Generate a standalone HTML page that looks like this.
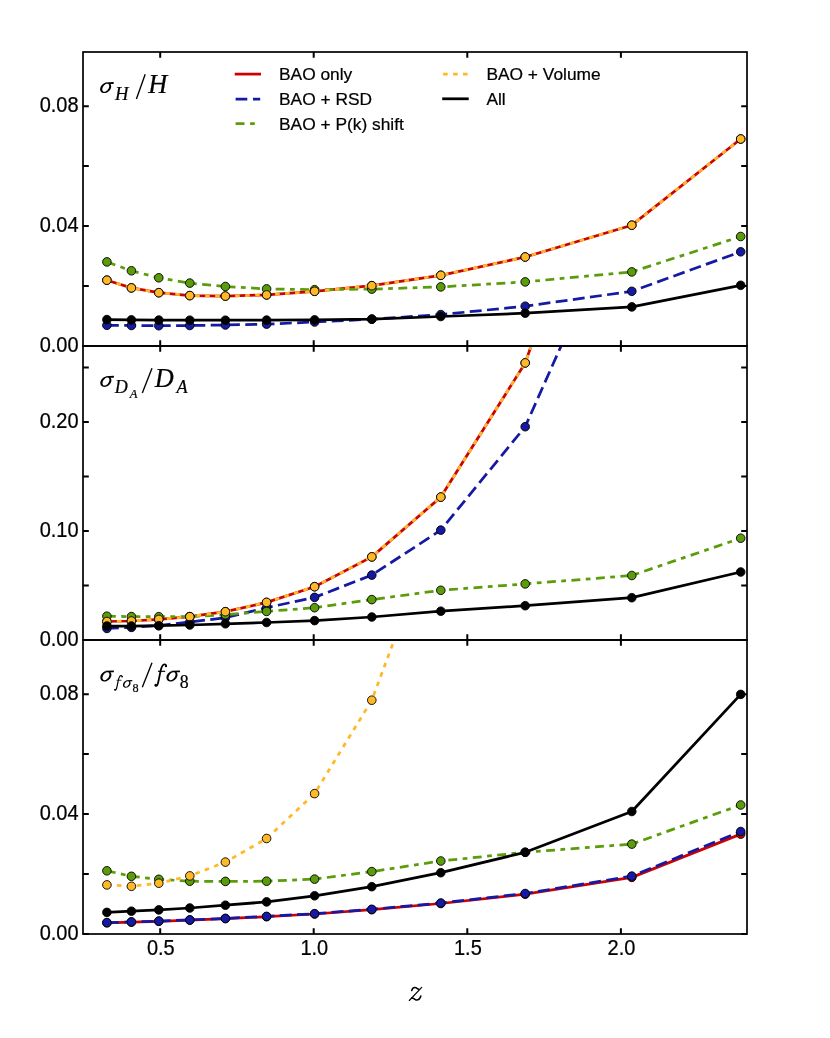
<!DOCTYPE html>
<html><head><meta charset="utf-8"><title>chart</title>
<style>html,body{margin:0;padding:0;background:#fff}svg{display:block;will-change:transform;opacity:0.999}text{font-family:"Liberation Sans",sans-serif;fill:#000;stroke:#000;stroke-width:0.22px}.m{font-family:"Liberation Serif",serif;font-style:italic}.r{font-family:"Liberation Serif",serif;font-style:normal}</style></head><body>
<svg width="830" height="1038" viewBox="0 0 830 1038">
<rect x="0" y="0" width="830" height="1038" fill="#ffffff"/>
<defs>
<clipPath id="c0"><rect x="83.0" y="52.0" width="664.0" height="294.0"/></clipPath>
<clipPath id="c1"><rect x="83.0" y="346.0" width="664.0" height="294.0"/></clipPath>
<clipPath id="c2"><rect x="83.0" y="640.0" width="664.0" height="294.0"/></clipPath>
</defs>
<g clip-path="url(#c0)">
<polyline points="106.9,280.2 131.4,287.9 158.8,292.7 189.8,295.6 225.4,296.1 266.6,294.9 314.6,291.3 371.8,285.7 440.8,275.3 525.2,257.0 631.8,225.2 740.7,139.0" fill="none" stroke="#CC0000" stroke-width="2.75" stroke-linejoin="round"/>
<circle cx="106.9" cy="280.2" r="4.3" fill="#CC0000" stroke="#000" stroke-width="0.9"/>
<circle cx="131.4" cy="287.9" r="4.3" fill="#CC0000" stroke="#000" stroke-width="0.9"/>
<circle cx="158.8" cy="292.7" r="4.3" fill="#CC0000" stroke="#000" stroke-width="0.9"/>
<circle cx="189.8" cy="295.6" r="4.3" fill="#CC0000" stroke="#000" stroke-width="0.9"/>
<circle cx="225.4" cy="296.1" r="4.3" fill="#CC0000" stroke="#000" stroke-width="0.9"/>
<circle cx="266.6" cy="294.9" r="4.3" fill="#CC0000" stroke="#000" stroke-width="0.9"/>
<circle cx="314.6" cy="291.3" r="4.3" fill="#CC0000" stroke="#000" stroke-width="0.9"/>
<circle cx="371.8" cy="285.7" r="4.3" fill="#CC0000" stroke="#000" stroke-width="0.9"/>
<circle cx="440.8" cy="275.3" r="4.3" fill="#CC0000" stroke="#000" stroke-width="0.9"/>
<circle cx="525.2" cy="257.0" r="4.3" fill="#CC0000" stroke="#000" stroke-width="0.9"/>
<circle cx="631.8" cy="225.2" r="4.3" fill="#CC0000" stroke="#000" stroke-width="0.9"/>
<circle cx="740.7" cy="139.0" r="4.3" fill="#CC0000" stroke="#000" stroke-width="0.9"/>
<polyline points="106.9,325.3 131.4,325.5 158.8,325.7 189.8,325.5 225.4,325.0 266.6,324.1 314.6,322.0 371.8,319.2 440.8,314.6 525.2,306.2 631.8,291.3 740.7,251.8" fill="none" stroke="#1619A1" stroke-width="2.75" stroke-linejoin="round" stroke-dasharray="11.9 5.4"/>
<circle cx="106.9" cy="325.3" r="4.3" fill="#1619A1" stroke="#000" stroke-width="0.9"/>
<circle cx="131.4" cy="325.5" r="4.3" fill="#1619A1" stroke="#000" stroke-width="0.9"/>
<circle cx="158.8" cy="325.7" r="4.3" fill="#1619A1" stroke="#000" stroke-width="0.9"/>
<circle cx="189.8" cy="325.5" r="4.3" fill="#1619A1" stroke="#000" stroke-width="0.9"/>
<circle cx="225.4" cy="325.0" r="4.3" fill="#1619A1" stroke="#000" stroke-width="0.9"/>
<circle cx="266.6" cy="324.1" r="4.3" fill="#1619A1" stroke="#000" stroke-width="0.9"/>
<circle cx="314.6" cy="322.0" r="4.3" fill="#1619A1" stroke="#000" stroke-width="0.9"/>
<circle cx="371.8" cy="319.2" r="4.3" fill="#1619A1" stroke="#000" stroke-width="0.9"/>
<circle cx="440.8" cy="314.6" r="4.3" fill="#1619A1" stroke="#000" stroke-width="0.9"/>
<circle cx="525.2" cy="306.2" r="4.3" fill="#1619A1" stroke="#000" stroke-width="0.9"/>
<circle cx="631.8" cy="291.3" r="4.3" fill="#1619A1" stroke="#000" stroke-width="0.9"/>
<circle cx="740.7" cy="251.8" r="4.3" fill="#1619A1" stroke="#000" stroke-width="0.9"/>
<polyline points="106.9,261.9 131.4,270.8 158.8,277.8 189.8,283.1 225.4,286.5 266.6,288.9 314.6,289.7 371.8,289.1 440.8,286.9 525.2,281.9 631.8,271.9 740.7,236.5" fill="none" stroke="#5B9C0A" stroke-width="2.75" stroke-linejoin="round" stroke-dasharray="8.9 5.45 4.75 5.45"/>
<circle cx="106.9" cy="261.9" r="4.3" fill="#5B9C0A" stroke="#000" stroke-width="0.9"/>
<circle cx="131.4" cy="270.8" r="4.3" fill="#5B9C0A" stroke="#000" stroke-width="0.9"/>
<circle cx="158.8" cy="277.8" r="4.3" fill="#5B9C0A" stroke="#000" stroke-width="0.9"/>
<circle cx="189.8" cy="283.1" r="4.3" fill="#5B9C0A" stroke="#000" stroke-width="0.9"/>
<circle cx="225.4" cy="286.5" r="4.3" fill="#5B9C0A" stroke="#000" stroke-width="0.9"/>
<circle cx="266.6" cy="288.9" r="4.3" fill="#5B9C0A" stroke="#000" stroke-width="0.9"/>
<circle cx="314.6" cy="289.7" r="4.3" fill="#5B9C0A" stroke="#000" stroke-width="0.9"/>
<circle cx="371.8" cy="289.1" r="4.3" fill="#5B9C0A" stroke="#000" stroke-width="0.9"/>
<circle cx="440.8" cy="286.9" r="4.3" fill="#5B9C0A" stroke="#000" stroke-width="0.9"/>
<circle cx="525.2" cy="281.9" r="4.3" fill="#5B9C0A" stroke="#000" stroke-width="0.9"/>
<circle cx="631.8" cy="271.9" r="4.3" fill="#5B9C0A" stroke="#000" stroke-width="0.9"/>
<circle cx="740.7" cy="236.5" r="4.3" fill="#5B9C0A" stroke="#000" stroke-width="0.9"/>
<polyline points="106.9,280.2 131.4,287.9 158.8,292.7 189.8,295.6 225.4,296.1 266.6,294.9 314.6,291.3 371.8,285.7 440.8,275.3 525.2,257.0 631.8,225.2 740.7,139.0" fill="none" stroke="#FFB928" stroke-width="2.75" stroke-linejoin="round" stroke-dasharray="4.6 5.4"/>
<circle cx="106.9" cy="280.2" r="4.3" fill="#FFB928" stroke="#000" stroke-width="0.9"/>
<circle cx="131.4" cy="287.9" r="4.3" fill="#FFB928" stroke="#000" stroke-width="0.9"/>
<circle cx="158.8" cy="292.7" r="4.3" fill="#FFB928" stroke="#000" stroke-width="0.9"/>
<circle cx="189.8" cy="295.6" r="4.3" fill="#FFB928" stroke="#000" stroke-width="0.9"/>
<circle cx="225.4" cy="296.1" r="4.3" fill="#FFB928" stroke="#000" stroke-width="0.9"/>
<circle cx="266.6" cy="294.9" r="4.3" fill="#FFB928" stroke="#000" stroke-width="0.9"/>
<circle cx="314.6" cy="291.3" r="4.3" fill="#FFB928" stroke="#000" stroke-width="0.9"/>
<circle cx="371.8" cy="285.7" r="4.3" fill="#FFB928" stroke="#000" stroke-width="0.9"/>
<circle cx="440.8" cy="275.3" r="4.3" fill="#FFB928" stroke="#000" stroke-width="0.9"/>
<circle cx="525.2" cy="257.0" r="4.3" fill="#FFB928" stroke="#000" stroke-width="0.9"/>
<circle cx="631.8" cy="225.2" r="4.3" fill="#FFB928" stroke="#000" stroke-width="0.9"/>
<circle cx="740.7" cy="139.0" r="4.3" fill="#FFB928" stroke="#000" stroke-width="0.9"/>
<polyline points="106.9,319.6 131.4,319.9 158.8,320.1 189.8,320.2 225.4,320.2 266.6,320.1 314.6,319.9 371.8,319.1 440.8,316.5 525.2,313.2 631.8,306.9 740.7,285.3" fill="none" stroke="#000000" stroke-width="2.75" stroke-linejoin="round"/>
<circle cx="106.9" cy="319.6" r="4.3" fill="#000000" stroke="#000" stroke-width="0.9"/>
<circle cx="131.4" cy="319.9" r="4.3" fill="#000000" stroke="#000" stroke-width="0.9"/>
<circle cx="158.8" cy="320.1" r="4.3" fill="#000000" stroke="#000" stroke-width="0.9"/>
<circle cx="189.8" cy="320.2" r="4.3" fill="#000000" stroke="#000" stroke-width="0.9"/>
<circle cx="225.4" cy="320.2" r="4.3" fill="#000000" stroke="#000" stroke-width="0.9"/>
<circle cx="266.6" cy="320.1" r="4.3" fill="#000000" stroke="#000" stroke-width="0.9"/>
<circle cx="314.6" cy="319.9" r="4.3" fill="#000000" stroke="#000" stroke-width="0.9"/>
<circle cx="371.8" cy="319.1" r="4.3" fill="#000000" stroke="#000" stroke-width="0.9"/>
<circle cx="440.8" cy="316.5" r="4.3" fill="#000000" stroke="#000" stroke-width="0.9"/>
<circle cx="525.2" cy="313.2" r="4.3" fill="#000000" stroke="#000" stroke-width="0.9"/>
<circle cx="631.8" cy="306.9" r="4.3" fill="#000000" stroke="#000" stroke-width="0.9"/>
<circle cx="740.7" cy="285.3" r="4.3" fill="#000000" stroke="#000" stroke-width="0.9"/>
</g>
<g clip-path="url(#c1)">
<polyline points="106.9,621.5 131.4,621.0 158.8,619.4 189.8,616.7 225.4,611.7 266.6,602.4 314.6,586.7 371.8,556.9 440.8,497.1 525.2,362.9 631.8,60.2 740.7,-399.8" fill="none" stroke="#CC0000" stroke-width="2.75" stroke-linejoin="round"/>
<circle cx="106.9" cy="621.5" r="4.3" fill="#CC0000" stroke="#000" stroke-width="0.9"/>
<circle cx="131.4" cy="621.0" r="4.3" fill="#CC0000" stroke="#000" stroke-width="0.9"/>
<circle cx="158.8" cy="619.4" r="4.3" fill="#CC0000" stroke="#000" stroke-width="0.9"/>
<circle cx="189.8" cy="616.7" r="4.3" fill="#CC0000" stroke="#000" stroke-width="0.9"/>
<circle cx="225.4" cy="611.7" r="4.3" fill="#CC0000" stroke="#000" stroke-width="0.9"/>
<circle cx="266.6" cy="602.4" r="4.3" fill="#CC0000" stroke="#000" stroke-width="0.9"/>
<circle cx="314.6" cy="586.7" r="4.3" fill="#CC0000" stroke="#000" stroke-width="0.9"/>
<circle cx="371.8" cy="556.9" r="4.3" fill="#CC0000" stroke="#000" stroke-width="0.9"/>
<circle cx="440.8" cy="497.1" r="4.3" fill="#CC0000" stroke="#000" stroke-width="0.9"/>
<circle cx="525.2" cy="362.9" r="4.3" fill="#CC0000" stroke="#000" stroke-width="0.9"/>
<circle cx="631.8" cy="60.2" r="4.3" fill="#CC0000" stroke="#000" stroke-width="0.9"/>
<polyline points="106.9,628.4 131.4,627.4 158.8,625.5 189.8,622.0 225.4,617.7 266.6,607.7 314.6,597.4 371.8,575.1 440.8,530.1 525.2,426.7 631.8,187.0 740.7,-199.8" fill="none" stroke="#1619A1" stroke-width="2.75" stroke-linejoin="round" stroke-dasharray="11.9 5.4"/>
<circle cx="106.9" cy="628.4" r="4.3" fill="#1619A1" stroke="#000" stroke-width="0.9"/>
<circle cx="131.4" cy="627.4" r="4.3" fill="#1619A1" stroke="#000" stroke-width="0.9"/>
<circle cx="158.8" cy="625.5" r="4.3" fill="#1619A1" stroke="#000" stroke-width="0.9"/>
<circle cx="189.8" cy="622.0" r="4.3" fill="#1619A1" stroke="#000" stroke-width="0.9"/>
<circle cx="225.4" cy="617.7" r="4.3" fill="#1619A1" stroke="#000" stroke-width="0.9"/>
<circle cx="266.6" cy="607.7" r="4.3" fill="#1619A1" stroke="#000" stroke-width="0.9"/>
<circle cx="314.6" cy="597.4" r="4.3" fill="#1619A1" stroke="#000" stroke-width="0.9"/>
<circle cx="371.8" cy="575.1" r="4.3" fill="#1619A1" stroke="#000" stroke-width="0.9"/>
<circle cx="440.8" cy="530.1" r="4.3" fill="#1619A1" stroke="#000" stroke-width="0.9"/>
<circle cx="525.2" cy="426.7" r="4.3" fill="#1619A1" stroke="#000" stroke-width="0.9"/>
<circle cx="631.8" cy="187.0" r="4.3" fill="#1619A1" stroke="#000" stroke-width="0.9"/>
<polyline points="106.9,616.2 131.4,616.6 158.8,616.7 189.8,616.6 225.4,614.7 266.6,611.4 314.6,607.7 371.8,599.6 440.8,590.3 525.2,583.9 631.8,575.5 740.7,538.2" fill="none" stroke="#5B9C0A" stroke-width="2.75" stroke-linejoin="round" stroke-dasharray="8.9 5.45 4.75 5.45"/>
<circle cx="106.9" cy="616.2" r="4.3" fill="#5B9C0A" stroke="#000" stroke-width="0.9"/>
<circle cx="131.4" cy="616.6" r="4.3" fill="#5B9C0A" stroke="#000" stroke-width="0.9"/>
<circle cx="158.8" cy="616.7" r="4.3" fill="#5B9C0A" stroke="#000" stroke-width="0.9"/>
<circle cx="189.8" cy="616.6" r="4.3" fill="#5B9C0A" stroke="#000" stroke-width="0.9"/>
<circle cx="225.4" cy="614.7" r="4.3" fill="#5B9C0A" stroke="#000" stroke-width="0.9"/>
<circle cx="266.6" cy="611.4" r="4.3" fill="#5B9C0A" stroke="#000" stroke-width="0.9"/>
<circle cx="314.6" cy="607.7" r="4.3" fill="#5B9C0A" stroke="#000" stroke-width="0.9"/>
<circle cx="371.8" cy="599.6" r="4.3" fill="#5B9C0A" stroke="#000" stroke-width="0.9"/>
<circle cx="440.8" cy="590.3" r="4.3" fill="#5B9C0A" stroke="#000" stroke-width="0.9"/>
<circle cx="525.2" cy="583.9" r="4.3" fill="#5B9C0A" stroke="#000" stroke-width="0.9"/>
<circle cx="631.8" cy="575.5" r="4.3" fill="#5B9C0A" stroke="#000" stroke-width="0.9"/>
<circle cx="740.7" cy="538.2" r="4.3" fill="#5B9C0A" stroke="#000" stroke-width="0.9"/>
<polyline points="106.9,621.5 131.4,621.0 158.8,619.4 189.8,616.7 225.4,611.7 266.6,602.4 314.6,586.7 371.8,556.9 440.8,497.1 525.2,362.9 631.8,60.2 740.7,-399.8" fill="none" stroke="#FFB928" stroke-width="2.75" stroke-linejoin="round" stroke-dasharray="4.6 5.4"/>
<circle cx="106.9" cy="621.5" r="4.3" fill="#FFB928" stroke="#000" stroke-width="0.9"/>
<circle cx="131.4" cy="621.0" r="4.3" fill="#FFB928" stroke="#000" stroke-width="0.9"/>
<circle cx="158.8" cy="619.4" r="4.3" fill="#FFB928" stroke="#000" stroke-width="0.9"/>
<circle cx="189.8" cy="616.7" r="4.3" fill="#FFB928" stroke="#000" stroke-width="0.9"/>
<circle cx="225.4" cy="611.7" r="4.3" fill="#FFB928" stroke="#000" stroke-width="0.9"/>
<circle cx="266.6" cy="602.4" r="4.3" fill="#FFB928" stroke="#000" stroke-width="0.9"/>
<circle cx="314.6" cy="586.7" r="4.3" fill="#FFB928" stroke="#000" stroke-width="0.9"/>
<circle cx="371.8" cy="556.9" r="4.3" fill="#FFB928" stroke="#000" stroke-width="0.9"/>
<circle cx="440.8" cy="497.1" r="4.3" fill="#FFB928" stroke="#000" stroke-width="0.9"/>
<circle cx="525.2" cy="362.9" r="4.3" fill="#FFB928" stroke="#000" stroke-width="0.9"/>
<circle cx="631.8" cy="60.2" r="4.3" fill="#FFB928" stroke="#000" stroke-width="0.9"/>
<polyline points="106.9,626.0 131.4,626.0 158.8,625.7 189.8,625.0 225.4,623.8 266.6,622.5 314.6,620.6 371.8,617.0 440.8,611.2 525.2,605.7 631.8,597.7 740.7,572.0" fill="none" stroke="#000000" stroke-width="2.75" stroke-linejoin="round"/>
<circle cx="106.9" cy="626.0" r="4.3" fill="#000000" stroke="#000" stroke-width="0.9"/>
<circle cx="131.4" cy="626.0" r="4.3" fill="#000000" stroke="#000" stroke-width="0.9"/>
<circle cx="158.8" cy="625.7" r="4.3" fill="#000000" stroke="#000" stroke-width="0.9"/>
<circle cx="189.8" cy="625.0" r="4.3" fill="#000000" stroke="#000" stroke-width="0.9"/>
<circle cx="225.4" cy="623.8" r="4.3" fill="#000000" stroke="#000" stroke-width="0.9"/>
<circle cx="266.6" cy="622.5" r="4.3" fill="#000000" stroke="#000" stroke-width="0.9"/>
<circle cx="314.6" cy="620.6" r="4.3" fill="#000000" stroke="#000" stroke-width="0.9"/>
<circle cx="371.8" cy="617.0" r="4.3" fill="#000000" stroke="#000" stroke-width="0.9"/>
<circle cx="440.8" cy="611.2" r="4.3" fill="#000000" stroke="#000" stroke-width="0.9"/>
<circle cx="525.2" cy="605.7" r="4.3" fill="#000000" stroke="#000" stroke-width="0.9"/>
<circle cx="631.8" cy="597.7" r="4.3" fill="#000000" stroke="#000" stroke-width="0.9"/>
<circle cx="740.7" cy="572.0" r="4.3" fill="#000000" stroke="#000" stroke-width="0.9"/>
</g>
<g clip-path="url(#c2)">
<polyline points="106.9,922.8 131.4,922.1 158.8,921.3 189.8,920.1 225.4,918.6 266.6,916.7 314.6,914.0 371.8,909.7 440.8,903.5 525.2,894.2 631.8,877.4 740.7,834.1" fill="none" stroke="#CC0000" stroke-width="2.75" stroke-linejoin="round"/>
<circle cx="106.9" cy="922.8" r="4.3" fill="#CC0000" stroke="#000" stroke-width="0.9"/>
<circle cx="131.4" cy="922.1" r="4.3" fill="#CC0000" stroke="#000" stroke-width="0.9"/>
<circle cx="158.8" cy="921.3" r="4.3" fill="#CC0000" stroke="#000" stroke-width="0.9"/>
<circle cx="189.8" cy="920.1" r="4.3" fill="#CC0000" stroke="#000" stroke-width="0.9"/>
<circle cx="225.4" cy="918.6" r="4.3" fill="#CC0000" stroke="#000" stroke-width="0.9"/>
<circle cx="266.6" cy="916.7" r="4.3" fill="#CC0000" stroke="#000" stroke-width="0.9"/>
<circle cx="314.6" cy="914.0" r="4.3" fill="#CC0000" stroke="#000" stroke-width="0.9"/>
<circle cx="371.8" cy="909.7" r="4.3" fill="#CC0000" stroke="#000" stroke-width="0.9"/>
<circle cx="440.8" cy="903.5" r="4.3" fill="#CC0000" stroke="#000" stroke-width="0.9"/>
<circle cx="525.2" cy="894.2" r="4.3" fill="#CC0000" stroke="#000" stroke-width="0.9"/>
<circle cx="631.8" cy="877.4" r="4.3" fill="#CC0000" stroke="#000" stroke-width="0.9"/>
<circle cx="740.7" cy="834.1" r="4.3" fill="#CC0000" stroke="#000" stroke-width="0.9"/>
<polyline points="106.9,922.6 131.4,921.9 158.8,921.1 189.8,919.9 225.4,918.4 266.6,916.4 314.6,913.7 371.8,909.3 440.8,903.0 525.2,893.5 631.8,876.1 740.7,831.5" fill="none" stroke="#1619A1" stroke-width="2.75" stroke-linejoin="round" stroke-dasharray="11.9 5.4"/>
<circle cx="106.9" cy="922.6" r="4.3" fill="#1619A1" stroke="#000" stroke-width="0.9"/>
<circle cx="131.4" cy="921.9" r="4.3" fill="#1619A1" stroke="#000" stroke-width="0.9"/>
<circle cx="158.8" cy="921.1" r="4.3" fill="#1619A1" stroke="#000" stroke-width="0.9"/>
<circle cx="189.8" cy="919.9" r="4.3" fill="#1619A1" stroke="#000" stroke-width="0.9"/>
<circle cx="225.4" cy="918.4" r="4.3" fill="#1619A1" stroke="#000" stroke-width="0.9"/>
<circle cx="266.6" cy="916.4" r="4.3" fill="#1619A1" stroke="#000" stroke-width="0.9"/>
<circle cx="314.6" cy="913.7" r="4.3" fill="#1619A1" stroke="#000" stroke-width="0.9"/>
<circle cx="371.8" cy="909.3" r="4.3" fill="#1619A1" stroke="#000" stroke-width="0.9"/>
<circle cx="440.8" cy="903.0" r="4.3" fill="#1619A1" stroke="#000" stroke-width="0.9"/>
<circle cx="525.2" cy="893.5" r="4.3" fill="#1619A1" stroke="#000" stroke-width="0.9"/>
<circle cx="631.8" cy="876.1" r="4.3" fill="#1619A1" stroke="#000" stroke-width="0.9"/>
<circle cx="740.7" cy="831.5" r="4.3" fill="#1619A1" stroke="#000" stroke-width="0.9"/>
<polyline points="106.9,870.8 131.4,876.3 158.8,879.3 189.8,881.2 225.4,881.4 266.6,881.2 314.6,879.1 371.8,871.6 440.8,861.0 525.2,852.3 631.8,844.1 740.7,805.0" fill="none" stroke="#5B9C0A" stroke-width="2.75" stroke-linejoin="round" stroke-dasharray="8.9 5.45 4.75 5.45"/>
<circle cx="106.9" cy="870.8" r="4.3" fill="#5B9C0A" stroke="#000" stroke-width="0.9"/>
<circle cx="131.4" cy="876.3" r="4.3" fill="#5B9C0A" stroke="#000" stroke-width="0.9"/>
<circle cx="158.8" cy="879.3" r="4.3" fill="#5B9C0A" stroke="#000" stroke-width="0.9"/>
<circle cx="189.8" cy="881.2" r="4.3" fill="#5B9C0A" stroke="#000" stroke-width="0.9"/>
<circle cx="225.4" cy="881.4" r="4.3" fill="#5B9C0A" stroke="#000" stroke-width="0.9"/>
<circle cx="266.6" cy="881.2" r="4.3" fill="#5B9C0A" stroke="#000" stroke-width="0.9"/>
<circle cx="314.6" cy="879.1" r="4.3" fill="#5B9C0A" stroke="#000" stroke-width="0.9"/>
<circle cx="371.8" cy="871.6" r="4.3" fill="#5B9C0A" stroke="#000" stroke-width="0.9"/>
<circle cx="440.8" cy="861.0" r="4.3" fill="#5B9C0A" stroke="#000" stroke-width="0.9"/>
<circle cx="525.2" cy="852.3" r="4.3" fill="#5B9C0A" stroke="#000" stroke-width="0.9"/>
<circle cx="631.8" cy="844.1" r="4.3" fill="#5B9C0A" stroke="#000" stroke-width="0.9"/>
<circle cx="740.7" cy="805.0" r="4.3" fill="#5B9C0A" stroke="#000" stroke-width="0.9"/>
<polyline points="106.9,884.9 131.4,886.3 158.8,883.2 189.8,875.9 225.4,862.1 266.6,838.5 314.6,793.6 371.8,700.2 440.8,515.2 525.2,200.2 631.8,-299.8 740.7,-899.8" fill="none" stroke="#FFB928" stroke-width="2.75" stroke-linejoin="round" stroke-dasharray="4.6 5.4"/>
<circle cx="106.9" cy="884.9" r="4.3" fill="#FFB928" stroke="#000" stroke-width="0.9"/>
<circle cx="131.4" cy="886.3" r="4.3" fill="#FFB928" stroke="#000" stroke-width="0.9"/>
<circle cx="158.8" cy="883.2" r="4.3" fill="#FFB928" stroke="#000" stroke-width="0.9"/>
<circle cx="189.8" cy="875.9" r="4.3" fill="#FFB928" stroke="#000" stroke-width="0.9"/>
<circle cx="225.4" cy="862.1" r="4.3" fill="#FFB928" stroke="#000" stroke-width="0.9"/>
<circle cx="266.6" cy="838.5" r="4.3" fill="#FFB928" stroke="#000" stroke-width="0.9"/>
<circle cx="314.6" cy="793.6" r="4.3" fill="#FFB928" stroke="#000" stroke-width="0.9"/>
<circle cx="371.8" cy="700.2" r="4.3" fill="#FFB928" stroke="#000" stroke-width="0.9"/>
<circle cx="440.8" cy="515.2" r="4.3" fill="#FFB928" stroke="#000" stroke-width="0.9"/>
<circle cx="525.2" cy="200.2" r="4.3" fill="#FFB928" stroke="#000" stroke-width="0.9"/>
<polyline points="106.9,912.4 131.4,911.2 158.8,909.9 189.8,908.0 225.4,905.2 266.6,901.9 314.6,895.8 371.8,886.7 440.8,872.7 525.2,852.3 631.8,811.5 740.7,694.4" fill="none" stroke="#000000" stroke-width="2.75" stroke-linejoin="round"/>
<circle cx="106.9" cy="912.4" r="4.3" fill="#000000" stroke="#000" stroke-width="0.9"/>
<circle cx="131.4" cy="911.2" r="4.3" fill="#000000" stroke="#000" stroke-width="0.9"/>
<circle cx="158.8" cy="909.9" r="4.3" fill="#000000" stroke="#000" stroke-width="0.9"/>
<circle cx="189.8" cy="908.0" r="4.3" fill="#000000" stroke="#000" stroke-width="0.9"/>
<circle cx="225.4" cy="905.2" r="4.3" fill="#000000" stroke="#000" stroke-width="0.9"/>
<circle cx="266.6" cy="901.9" r="4.3" fill="#000000" stroke="#000" stroke-width="0.9"/>
<circle cx="314.6" cy="895.8" r="4.3" fill="#000000" stroke="#000" stroke-width="0.9"/>
<circle cx="371.8" cy="886.7" r="4.3" fill="#000000" stroke="#000" stroke-width="0.9"/>
<circle cx="440.8" cy="872.7" r="4.3" fill="#000000" stroke="#000" stroke-width="0.9"/>
<circle cx="525.2" cy="852.3" r="4.3" fill="#000000" stroke="#000" stroke-width="0.9"/>
<circle cx="631.8" cy="811.5" r="4.3" fill="#000000" stroke="#000" stroke-width="0.9"/>
<circle cx="740.7" cy="694.4" r="4.3" fill="#000000" stroke="#000" stroke-width="0.9"/>
</g>
<path d="M160.2 52.0v5.8M160.2 346.0v-5.8M313.7 52.0v5.8M313.7 346.0v-5.8M467.3 52.0v5.8M467.3 346.0v-5.8M620.9 52.0v5.8M620.9 346.0v-5.8M160.2 346.0v5.8M160.2 640.0v-5.8M313.7 346.0v5.8M313.7 640.0v-5.8M467.3 346.0v5.8M467.3 640.0v-5.8M620.9 346.0v5.8M620.9 640.0v-5.8M160.2 640.0v5.8M160.2 934.0v-5.8M313.7 640.0v5.8M313.7 934.0v-5.8M467.3 640.0v5.8M467.3 934.0v-5.8M620.9 640.0v5.8M620.9 934.0v-5.8M83.0 346.0h5.8M747.0 346.0h-5.8M83.0 286.1h5.8M747.0 286.1h-5.8M83.0 226.1h5.8M747.0 226.1h-5.8M83.0 166.1h5.8M747.0 166.1h-5.8M83.0 106.2h5.8M747.0 106.2h-5.8M83.0 640.0h5.8M747.0 640.0h-5.8M83.0 585.5h5.8M747.0 585.5h-5.8M83.0 531.0h5.8M747.0 531.0h-5.8M83.0 476.5h5.8M747.0 476.5h-5.8M83.0 422.0h5.8M747.0 422.0h-5.8M83.0 367.5h5.8M747.0 367.5h-5.8M83.0 934.0h5.8M747.0 934.0h-5.8M83.0 874.0h5.8M747.0 874.0h-5.8M83.0 814.1h5.8M747.0 814.1h-5.8M83.0 754.1h5.8M747.0 754.1h-5.8M83.0 694.2h5.8M747.0 694.2h-5.8" stroke="#000" stroke-width="2.0" fill="none"/>
<g stroke="#000" stroke-width="1.7" fill="none" stroke-linecap="square"><rect x="83.0" y="52.0" width="664.0" height="294.0"/><rect x="83.0" y="346.0" width="664.0" height="294.0"/><rect x="83.0" y="640.0" width="664.0" height="294.0"/></g>
<text transform="translate(78.6,351.8) scale(1,1.075)" font-size="20" text-anchor="end">0.00</text>
<text transform="translate(78.6,939.8) scale(1,1.075)" font-size="20" text-anchor="end">0.00</text>
<text transform="translate(78.6,231.9) scale(1,1.075)" font-size="20" text-anchor="end">0.04</text>
<text transform="translate(78.6,819.9) scale(1,1.075)" font-size="20" text-anchor="end">0.04</text>
<text transform="translate(78.6,112.0) scale(1,1.075)" font-size="20" text-anchor="end">0.08</text>
<text transform="translate(78.6,700.0) scale(1,1.075)" font-size="20" text-anchor="end">0.08</text>
<text transform="translate(78.6,645.8) scale(1,1.075)" font-size="20" text-anchor="end">0.00</text>
<text transform="translate(78.6,536.8) scale(1,1.075)" font-size="20" text-anchor="end">0.10</text>
<text transform="translate(78.6,427.8) scale(1,1.075)" font-size="20" text-anchor="end">0.20</text>
<text transform="translate(160.8,954.7) scale(1,1.075)" font-size="20" text-anchor="middle">0.5</text>
<text transform="translate(314.3,954.7) scale(1,1.075)" font-size="20" text-anchor="middle">1.0</text>
<text transform="translate(467.9,954.7) scale(1,1.075)" font-size="20" text-anchor="middle">1.5</text>
<text transform="translate(621.5,954.7) scale(1,1.075)" font-size="20" text-anchor="middle">2.0</text>
<path d="M234.7 74.1H261.0" stroke="#CC0000" stroke-width="2.75" fill="none"/>
<text x="279.0" y="80.4" font-size="17.35">BAO only</text>
<path d="M235.6 99.0H247.3M253.0 99.0H260.2" stroke="#1619A1" stroke-width="2.75" fill="none"/>
<text x="279.0" y="105.3" font-size="17.35">BAO + RSD</text>
<path d="M235.6 123.7H244.5M250.1 123.7H254.8" stroke="#5B9C0A" stroke-width="2.75" fill="none"/>
<text x="279.0" y="130.0" font-size="17.35">BAO + P(k) shift</text>
<path d="M443.1 74.1H447.7M453.1 74.1H457.7M463.0 74.1H467.6" stroke="#FFB928" stroke-width="2.75" fill="none"/>
<text x="486.4" y="80.4" font-size="17.35">BAO + Volume</text>
<path d="M442.2 98.8H468.7" stroke="#000000" stroke-width="2.75" fill="none"/>
<text x="486.4" y="105.1" font-size="17.35">All</text>
<path transform="translate(100.1,93.1) scale(1.000)" d="M10.22 -9.22 L10.63 -8.61 L10.92 -7.93 L11.07 -7.17 L11.09 -6.37 L10.97 -5.55 L10.72 -4.72 L10.34 -3.90 L9.84 -3.12 L9.24 -2.39 L8.55 -1.73 L7.78 -1.16 L6.95 -0.69 L6.10 -0.34 L5.23 -0.11 L4.36 -0.00 L3.53 -0.03 L2.75 -0.19 L2.03 -0.47 L1.40 -0.87 L0.88 -1.38 L0.47 -1.99 L0.18 -2.67 L0.03 -3.43 L0.01 -4.23 L0.13 -5.05 L0.38 -5.88 L0.76 -6.70 L1.26 -7.48 L1.86 -8.21 L2.55 -8.87 L3.32 -9.44 L4.15 -9.91 L5.00 -10.26 L5.87 -10.49 L6.74 -10.60 L7.57 -10.57 L8.35 -10.41 L9.07 -10.13 L9.70 -9.73ZM8.23 -9.04 L7.84 -9.24 L7.40 -9.35 L6.91 -9.36 L6.39 -9.28 L5.85 -9.09 L5.31 -8.82 L4.78 -8.45 L4.27 -8.02 L3.79 -7.51 L3.36 -6.96 L2.98 -6.36 L2.67 -5.74 L2.43 -5.11 L2.28 -4.48 L2.20 -3.88 L2.21 -3.31 L2.31 -2.79 L2.49 -2.34 L2.74 -1.96 L3.07 -1.66 L3.46 -1.46 L3.90 -1.35 L4.39 -1.34 L4.91 -1.42 L5.45 -1.61 L5.99 -1.88 L6.52 -2.25 L7.03 -2.68 L7.51 -3.19 L7.94 -3.74 L8.32 -4.34 L8.63 -4.96 L8.87 -5.59 L9.02 -6.22 L9.10 -6.82 L9.09 -7.39 L8.99 -7.91 L8.81 -8.36 L8.56 -8.74ZM5.10 -10.65 L13.70 -11.05 L13.45 -9.20 L8.40 -9.15 Z" fill="#000"/><text class="m" x="114.9" y="99.5" font-size="18.7">H</text><line x1="136.4" y1="98.9" x2="145.2" y2="74.2" stroke="#000" stroke-width="1.35"/><text class="m" x="148.3" y="92.9" font-size="26.3">H</text>
<path transform="translate(100.3,386.9) scale(1.000)" d="M10.22 -9.22 L10.63 -8.61 L10.92 -7.93 L11.07 -7.17 L11.09 -6.37 L10.97 -5.55 L10.72 -4.72 L10.34 -3.90 L9.84 -3.12 L9.24 -2.39 L8.55 -1.73 L7.78 -1.16 L6.95 -0.69 L6.10 -0.34 L5.23 -0.11 L4.36 -0.00 L3.53 -0.03 L2.75 -0.19 L2.03 -0.47 L1.40 -0.87 L0.88 -1.38 L0.47 -1.99 L0.18 -2.67 L0.03 -3.43 L0.01 -4.23 L0.13 -5.05 L0.38 -5.88 L0.76 -6.70 L1.26 -7.48 L1.86 -8.21 L2.55 -8.87 L3.32 -9.44 L4.15 -9.91 L5.00 -10.26 L5.87 -10.49 L6.74 -10.60 L7.57 -10.57 L8.35 -10.41 L9.07 -10.13 L9.70 -9.73ZM8.23 -9.04 L7.84 -9.24 L7.40 -9.35 L6.91 -9.36 L6.39 -9.28 L5.85 -9.09 L5.31 -8.82 L4.78 -8.45 L4.27 -8.02 L3.79 -7.51 L3.36 -6.96 L2.98 -6.36 L2.67 -5.74 L2.43 -5.11 L2.28 -4.48 L2.20 -3.88 L2.21 -3.31 L2.31 -2.79 L2.49 -2.34 L2.74 -1.96 L3.07 -1.66 L3.46 -1.46 L3.90 -1.35 L4.39 -1.34 L4.91 -1.42 L5.45 -1.61 L5.99 -1.88 L6.52 -2.25 L7.03 -2.68 L7.51 -3.19 L7.94 -3.74 L8.32 -4.34 L8.63 -4.96 L8.87 -5.59 L9.02 -6.22 L9.10 -6.82 L9.09 -7.39 L8.99 -7.91 L8.81 -8.36 L8.56 -8.74ZM5.10 -10.65 L13.70 -11.05 L13.45 -9.20 L8.40 -9.15 Z" fill="#000"/><text class="m" x="114.7" y="393.1" font-size="18.0">D</text><text class="m" x="129.8" y="398.0" font-size="12.6">A</text><line x1="142.3" y1="392.9" x2="152.0" y2="368.2" stroke="#000" stroke-width="1.35"/><text class="m" x="154.8" y="386.9" font-size="26.3">D</text><text class="m" x="176.5" y="393.4" font-size="18.2">A</text>
<path transform="translate(100.3,681.5) scale(1.000)" d="M10.22 -9.22 L10.63 -8.61 L10.92 -7.93 L11.07 -7.17 L11.09 -6.37 L10.97 -5.55 L10.72 -4.72 L10.34 -3.90 L9.84 -3.12 L9.24 -2.39 L8.55 -1.73 L7.78 -1.16 L6.95 -0.69 L6.10 -0.34 L5.23 -0.11 L4.36 -0.00 L3.53 -0.03 L2.75 -0.19 L2.03 -0.47 L1.40 -0.87 L0.88 -1.38 L0.47 -1.99 L0.18 -2.67 L0.03 -3.43 L0.01 -4.23 L0.13 -5.05 L0.38 -5.88 L0.76 -6.70 L1.26 -7.48 L1.86 -8.21 L2.55 -8.87 L3.32 -9.44 L4.15 -9.91 L5.00 -10.26 L5.87 -10.49 L6.74 -10.60 L7.57 -10.57 L8.35 -10.41 L9.07 -10.13 L9.70 -9.73ZM8.23 -9.04 L7.84 -9.24 L7.40 -9.35 L6.91 -9.36 L6.39 -9.28 L5.85 -9.09 L5.31 -8.82 L4.78 -8.45 L4.27 -8.02 L3.79 -7.51 L3.36 -6.96 L2.98 -6.36 L2.67 -5.74 L2.43 -5.11 L2.28 -4.48 L2.20 -3.88 L2.21 -3.31 L2.31 -2.79 L2.49 -2.34 L2.74 -1.96 L3.07 -1.66 L3.46 -1.46 L3.90 -1.35 L4.39 -1.34 L4.91 -1.42 L5.45 -1.61 L5.99 -1.88 L6.52 -2.25 L7.03 -2.68 L7.51 -3.19 L7.94 -3.74 L8.32 -4.34 L8.63 -4.96 L8.87 -5.59 L9.02 -6.22 L9.10 -6.82 L9.09 -7.39 L8.99 -7.91 L8.81 -8.36 L8.56 -8.74ZM5.10 -10.65 L13.70 -11.05 L13.45 -9.20 L8.40 -9.15 Z" fill="#000"/><g transform="translate(114.5,690.8) scale(0.68)"><path d="M11.30 -20.70 C11.40 -22.10 9.70 -22.90 8.50 -22.10 C6.80 -21.00 6.20 -18.30 5.60 -15.50 L3.60 -5.80 C3.10 -3.20 2.50 -0.90 1.20 -0.80 C0.50 -0.80 0.30 -1.40 0.60 -1.90" fill="none" stroke="#000" stroke-width="1.75" stroke-linecap="round"/><circle cx="11.10" cy="-20.60" r="1.05" fill="#000"/><circle cx="0.80" cy="-1.90" r="1.05" fill="#000"/><path d="M3.10 -15.50 L10.30 -15.50" stroke="#000" stroke-width="1.15" fill="none"/></g><path transform="translate(122.9,687.7) scale(0.690)" d="M10.22 -9.22 L10.63 -8.61 L10.92 -7.93 L11.07 -7.17 L11.09 -6.37 L10.97 -5.55 L10.72 -4.72 L10.34 -3.90 L9.84 -3.12 L9.24 -2.39 L8.55 -1.73 L7.78 -1.16 L6.95 -0.69 L6.10 -0.34 L5.23 -0.11 L4.36 -0.00 L3.53 -0.03 L2.75 -0.19 L2.03 -0.47 L1.40 -0.87 L0.88 -1.38 L0.47 -1.99 L0.18 -2.67 L0.03 -3.43 L0.01 -4.23 L0.13 -5.05 L0.38 -5.88 L0.76 -6.70 L1.26 -7.48 L1.86 -8.21 L2.55 -8.87 L3.32 -9.44 L4.15 -9.91 L5.00 -10.26 L5.87 -10.49 L6.74 -10.60 L7.57 -10.57 L8.35 -10.41 L9.07 -10.13 L9.70 -9.73ZM8.23 -9.04 L7.84 -9.24 L7.40 -9.35 L6.91 -9.36 L6.39 -9.28 L5.85 -9.09 L5.31 -8.82 L4.78 -8.45 L4.27 -8.02 L3.79 -7.51 L3.36 -6.96 L2.98 -6.36 L2.67 -5.74 L2.43 -5.11 L2.28 -4.48 L2.20 -3.88 L2.21 -3.31 L2.31 -2.79 L2.49 -2.34 L2.74 -1.96 L3.07 -1.66 L3.46 -1.46 L3.90 -1.35 L4.39 -1.34 L4.91 -1.42 L5.45 -1.61 L5.99 -1.88 L6.52 -2.25 L7.03 -2.68 L7.51 -3.19 L7.94 -3.74 L8.32 -4.34 L8.63 -4.96 L8.87 -5.59 L9.02 -6.22 L9.10 -6.82 L9.09 -7.39 L8.99 -7.91 L8.81 -8.36 L8.56 -8.74ZM5.10 -10.65 L13.70 -11.05 L13.45 -9.20 L8.40 -9.15 Z" fill="#000"/><text class="r" x="132.4" y="692.4" font-size="12.2">8</text><line x1="142.3" y1="687.3" x2="152.0" y2="662.7" stroke="#000" stroke-width="1.35"/><g transform="translate(154.9,686.8) scale(1)"><path d="M11.30 -20.70 C11.40 -22.10 9.70 -22.90 8.50 -22.10 C6.80 -21.00 6.20 -18.30 5.60 -15.50 L3.60 -5.80 C3.10 -3.20 2.50 -0.90 1.20 -0.80 C0.50 -0.80 0.30 -1.40 0.60 -1.90" fill="none" stroke="#000" stroke-width="1.75" stroke-linecap="round"/><circle cx="11.10" cy="-20.60" r="1.05" fill="#000"/><circle cx="0.80" cy="-1.90" r="1.05" fill="#000"/><path d="M3.10 -15.50 L10.30 -15.50" stroke="#000" stroke-width="1.15" fill="none"/></g><path transform="translate(166.4,681.5) scale(1.000)" d="M10.22 -9.22 L10.63 -8.61 L10.92 -7.93 L11.07 -7.17 L11.09 -6.37 L10.97 -5.55 L10.72 -4.72 L10.34 -3.90 L9.84 -3.12 L9.24 -2.39 L8.55 -1.73 L7.78 -1.16 L6.95 -0.69 L6.10 -0.34 L5.23 -0.11 L4.36 -0.00 L3.53 -0.03 L2.75 -0.19 L2.03 -0.47 L1.40 -0.87 L0.88 -1.38 L0.47 -1.99 L0.18 -2.67 L0.03 -3.43 L0.01 -4.23 L0.13 -5.05 L0.38 -5.88 L0.76 -6.70 L1.26 -7.48 L1.86 -8.21 L2.55 -8.87 L3.32 -9.44 L4.15 -9.91 L5.00 -10.26 L5.87 -10.49 L6.74 -10.60 L7.57 -10.57 L8.35 -10.41 L9.07 -10.13 L9.70 -9.73ZM8.23 -9.04 L7.84 -9.24 L7.40 -9.35 L6.91 -9.36 L6.39 -9.28 L5.85 -9.09 L5.31 -8.82 L4.78 -8.45 L4.27 -8.02 L3.79 -7.51 L3.36 -6.96 L2.98 -6.36 L2.67 -5.74 L2.43 -5.11 L2.28 -4.48 L2.20 -3.88 L2.21 -3.31 L2.31 -2.79 L2.49 -2.34 L2.74 -1.96 L3.07 -1.66 L3.46 -1.46 L3.90 -1.35 L4.39 -1.34 L4.91 -1.42 L5.45 -1.61 L5.99 -1.88 L6.52 -2.25 L7.03 -2.68 L7.51 -3.19 L7.94 -3.74 L8.32 -4.34 L8.63 -4.96 L8.87 -5.59 L9.02 -6.22 L9.10 -6.82 L9.09 -7.39 L8.99 -7.91 L8.81 -8.36 L8.56 -8.74ZM5.10 -10.65 L13.70 -11.05 L13.45 -9.20 L8.40 -9.15 Z" fill="#000"/><text class="r" x="179.7" y="687.7" font-size="17.8">8</text>
<g fill="none" stroke="#000" stroke-linecap="round"><path d="M411.7 990.5 C412.2 988.8 413.6 987.5 415.2 987.6 C416.6 987.7 417.2 988.9 418.8 989.2" stroke-width="1.55"/><path d="M421.7 987.3 L409.3 1000.5" stroke-width="1.15"/><path d="M411.8 998.0 C413.5 997.6 414.6 999.9 416.4 1000.0 C418.6 1000.1 420.2 998.2 420.8 996.0" stroke-width="1.55"/></g>
</svg>
</body></html>
